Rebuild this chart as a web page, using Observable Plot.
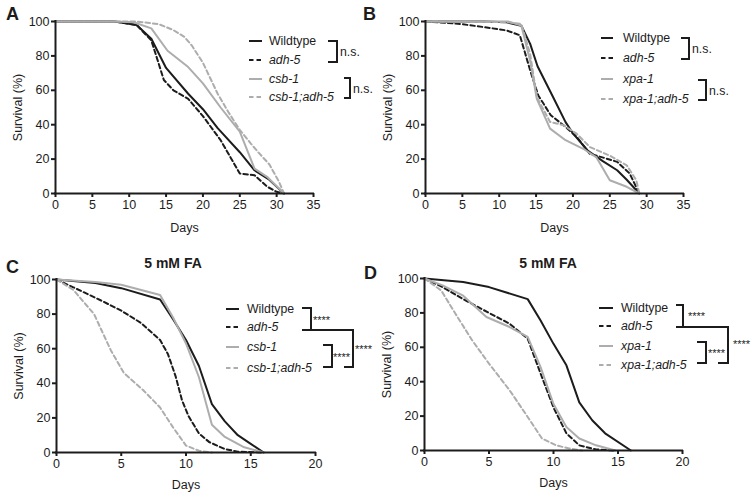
<!DOCTYPE html>
<html><head><meta charset="utf-8">
<script src="https://cdn.jsdelivr.net/npm/d3@7"></script>
<script src="https://cdn.jsdelivr.net/npm/@observablehq/plot@0.6"></script>
<style>
body{margin:0;background:#fff;}
#root{position:relative;width:753px;height:496px;font-family:"Liberation Sans",Arial,sans-serif;}
#root > svg{position:absolute;}
</style></head><body><div id="root"></div>
<script>
// ---- data: [day, survival %] ----
const A_wildtype = [[0,100],[8,100],[11,98],[13,90],[15,73],[18,58],[20,49],[22,38],[25,24],[27,13.5],[29,8],[31,0]];
const A_adh5 = [[0,100],[8,100],[11,98],[13,89],[14.7,66],[16,60],[18,55],[20,45],[22.4,31],[25,11.6],[27,10.6],[28.7,4],[30,1],[31,0]];
const A_csb1 = [[0,100],[8,100],[10.6,99.6],[13,96],[15.2,83],[18,73.5],[20,64],[22.4,50],[25,36],[27,14.5],[28.7,9.7],[31,0]];
const A_csb1adh5 = [[0,100],[11,100],[14,98.5],[16,95],[17.5,91],[18.5,86],[20,76],[21,67],[22,58],[23.5,47],[25,37],[26.5,29],[27.5,24],[29,17],[30.3,7],[31,0]];

const B_wildtype = [[0,100],[8,100],[11,99.5],[13,97.5],[14.2,87],[15.2,74],[17.2,57],[19,41.5],[20,35],[22,25],[24,19],[26,13.5],[27.3,8],[29,0]];
const B_adh5 = [[0,100],[4.7,98.6],[8,96.7],[11,94.8],[12.8,92],[14.2,71.6],[15.3,57],[17,45.5],[19,38.7],[20.5,33],[22.3,23],[24,21],[26,18.4],[27.7,11.6],[29,0]];
const B_xpa1 = [[0,100],[11.2,100],[13,97.7],[14.2,77],[15.1,55],[16.9,37.7],[19,31],[21.4,26],[23.2,21],[25,7.7],[27.3,3.9],[29,0]];
const B_xpa1adh5 = [[0,100],[11,99.6],[13,98.6],[14.2,81],[15.1,56],[16.9,41.6],[18.7,39.7],[20.5,34.8],[22.3,27],[25,22],[27.3,16.4],[28.6,7.7],[29,0]];

const C_wildtype = [[0,100],[3,98],[5,95],[8,88.4],[9,77],[10,65],[11,50],[12,28],[13,18],[14,10],[15,5],[16,0]];
const C_adh5 = [[0,100],[1.3,95.5],[3.4,88],[5,82],[6.5,75],[8,65],[8.6,57],[9.2,44],[9.7,30],[10.2,21],[11,11],[11.8,6],[13,2],[14,0.5],[16,0]];
const C_csb1 = [[0,100],[3,98.6],[5,97],[8,91],[9,78],[10,63],[11,43.5],[12,16],[13,9],[14.5,3],[16,0]];
const C_csb1adh5 = [[0,100],[1.3,94],[2.9,80],[4.2,59],[5.2,46],[6.7,36],[8,26],[9,14.5],[10,4],[11,1],[12,0]];

const D_wildtype = [[0,100],[3,98],[5,95],[8,88],[9,75.6],[10,62],[11,49.5],[12,28],[13,17.6],[14,10],[16,0]];
const D_adh5 = [[0,100],[1.4,95],[3,88],[5,80],[6.6,73.7],[8,65],[9,44.7],[10,25],[11,10],[12,3],[13.3,0.6],[14.8,0]];
const D_xpa1 = [[0,100],[1.4,96],[3,90],[4.8,77.6],[6.6,71.8],[8,66],[9,48.5],[10,27],[11,13.7],[12,7],[13.3,3],[14.8,0]];
const D_xpa1adh5 = [[0,100],[1.3,93],[2.4,79.5],[3.7,64],[5,50.5],[6.6,35],[8,19.5],[9.1,7],[10.2,3],[11.2,1.2],[12.2,0]];

const namesCSB = ["Wildtype","adh-5","csb-1","csb-1;adh-5"];
const namesXPA = ["Wildtype","adh-5","xpa-1","xpa-1;adh-5"];
const yTicks = [0,20,40,60,80,100];
const xTicksLong = [0,5,10,15,20,25,30,35];
const xTicksShort = [0,5,10,15,20];
const panelLetters = ["A","B","C","D"];
const panelTitle = "5 mM FA";
const sigNS = "n.s.";
const sigStars = "****";

// ---- styles ----
const BLACK = "#1c1c1c", GRAY = "#adadad";
const seriesStyle = [
  {stroke: BLACK, dash: null, italic: false},
  {stroke: BLACK, dash: "4.5,3", italic: true},
  {stroke: GRAY, dash: null, italic: true},
  {stroke: GRAY, dash: "4.5,3", italic: true}
];

const root = document.getElementById("root");

function panel(cfg) {
  const rows = cfg.series.flatMap((pts, i) => pts.map(([d, v]) => ({s: i, day: d, surv: v})));
  const marks = [];
  seriesStyle.forEach((st, i) => {
    marks.push(Plot.line(rows.filter(r => r.s === i), {
      x: "day", y: "surv", stroke: st.stroke, strokeWidth: 2,
      strokeDasharray: st.dash || undefined, strokeLinejoin: "round"
    }));
  });
  marks.push(
    Plot.axisY({ticks: yTicks, tickSize: 4, tickPadding: 2, strokeWidth: 2, fontSize: 12.5,
      label: "Survival (%)", labelArrow: "none", labelAnchor: "center", labelOffset: cfg.yLabelOffset}),
    Plot.axisX({ticks: cfg.xTicks, tickSize: 4, tickPadding: 3, strokeWidth: 2, fontSize: 12.5,
      label: "Days", labelArrow: "none", labelAnchor: "center", labelOffset: cfg.xLabelOffset}),
    Plot.ruleX([0], {strokeWidth: 2, stroke: BLACK, strokeLinecap: "square"}),
    Plot.ruleY([0], {strokeWidth: 2, stroke: BLACK, strokeLinecap: "square"})
  );
  const svg = Plot.plot({
    width: cfg.w, height: cfg.h,
    marginLeft: cfg.m[0], marginRight: cfg.m[1], marginTop: cfg.m[2], marginBottom: cfg.m[3],
    x: {domain: cfg.xDomain, labelArrow: "none"},
    y: {domain: [0, 100], labelArrow: "none"},
    style: {fontFamily: "'Liberation Sans', Arial, sans-serif", fontSize: "12.5px", color: BLACK, background: "transparent", overflow: "visible"},
    marks
  });
  svg.style.left = cfg.left + "px";
  svg.style.top = cfg.top + "px";
  root.appendChild(svg);

  const g = d3.select(svg).append("g").attr("fill", BLACK).attr("text-anchor", "start");
  // panel letter
  g.append("text").attr("x", cfg.letter[0]).attr("y", cfg.letter[1])
    .attr("font-size", 18).attr("font-weight", "bold").text(cfg.letterText);
  if (cfg.title) {
    g.append("text").attr("x", cfg.title[0]).attr("y", cfg.title[1]).attr("text-anchor", "middle")
      .attr("font-size", 14).attr("font-weight", "bold").text(panelTitle);
  }
  // legend
  const L = cfg.legend;
  cfg.names.forEach((n, i) => {
    const st = seriesStyle[i], y = L.rows[i];
    g.append("line").attr("x1", L.x0).attr("x2", L.x1).attr("y1", y).attr("y2", y)
      .attr("stroke", st.stroke).attr("stroke-width", 2).attr("stroke-dasharray", st.dash);
    g.append("text").attr("x", L.tx).attr("y", y).attr("dy", "0.36em").attr("font-size", 12.3)
      .attr("font-style", st.italic ? "italic" : "normal").text(n);
  });
  // brackets
  cfg.brackets.forEach(b => {
    g.append("path").attr("fill", "none").attr("stroke", BLACK).attr("stroke-width", 2)
      .attr("d", b.d);
    g.append("text").attr("x", b.t[0]).attr("y", b.t[1]).attr("dy", b.dy).attr("font-size", b.fs)
      .attr("fill", BLACK).text(b.label);
  });
}

panel({
  series: [A_wildtype, A_adh5, A_csb1, A_csb1adh5], names: namesCSB, letterText: panelLetters[0],
  left: 0, top: 0, w: 376, h: 240, m: [55, 63, 21, 47], xDomain: [0, 35], xTicks: xTicksLong,
  yLabelOffset: 42, xLabelOffset: 38, letter: [6, 20],
  legend: {x0: 249, x1: 262, tx: 269, rows: [41, 60, 79, 97]},
  brackets: [
    {d: "M328,41H337V62H328", t: [340, 52], dy: "0.36em", fs: 12.3, label: sigNS},
    {d: "M344,78H350V98H344", t: [353, 89], dy: "0.36em", fs: 12.3, label: sigNS}
  ]
});
panel({
  series: [B_wildtype, B_adh5, B_xpa1, B_xpa1adh5], names: namesXPA, letterText: panelLetters[1],
  left: 376, top: 0, w: 377, h: 240, m: [49, 70, 21, 47], xDomain: [0, 35], xTicks: xTicksLong,
  yLabelOffset: 42, xLabelOffset: 38, letter: [-13, 20],
  legend: {x0: 225, x1: 237, tx: 247, rows: [38, 58, 79, 99]},
  brackets: [
    {d: "M305,38H313V59H305", t: [316, 49], dy: "0.36em", fs: 12.3, label: sigNS},
    {d: "M322,80H330V100H322", t: [333, 91], dy: "0.36em", fs: 12.3, label: sigNS}
  ]
});
panel({
  series: [C_wildtype, C_adh5, C_csb1, C_csb1adh5], names: namesCSB, letterText: panelLetters[2],
  left: 0, top: 240, w: 376, h: 256, m: [56, 61, 39, 44], xDomain: [0, 20], xTicks: xTicksShort,
  yLabelOffset: 42, xLabelOffset: 36, letter: [6, 33], title: [173, 28],
  legend: {x0: 226, x1: 239, tx: 247, rows: [69, 87, 107, 128]},
  brackets: [
    {d: "M302,68H311V90H302", t: [313, 84], dy: "0", fs: 11, label: sigStars},
    {d: "M311,90H353V127H344", t: [355, 113], dy: "0", fs: 11, label: sigStars},
    {d: "M323,105H332V127H323", t: [333, 121], dy: "0", fs: 11, label: sigStars}
  ]
});
panel({
  series: [D_wildtype, D_adh5, D_xpa1, D_xpa1adh5], names: namesXPA, letterText: panelLetters[3],
  left: 376, top: 240, w: 377, h: 256, m: [48, 71, 38, 46], xDomain: [0, 20], xTicks: xTicksShort,
  yLabelOffset: 42, xLabelOffset: 36, letter: [-12, 39], title: [172, 28],
  legend: {x0: 223, x1: 237, tx: 245, rows: [68, 86, 106, 125]},
  brackets: [
    {d: "M300,65H307V87H300", t: [312, 80], dy: "0", fs: 11, label: sigStars},
    {d: "M307,87H352V123H342", t: [357, 108], dy: "0", fs: 11, label: sigStars},
    {d: "M321,102H330V123H321", t: [332, 117], dy: "0", fs: 11, label: sigStars}
  ]
});
</script>
</body></html>
